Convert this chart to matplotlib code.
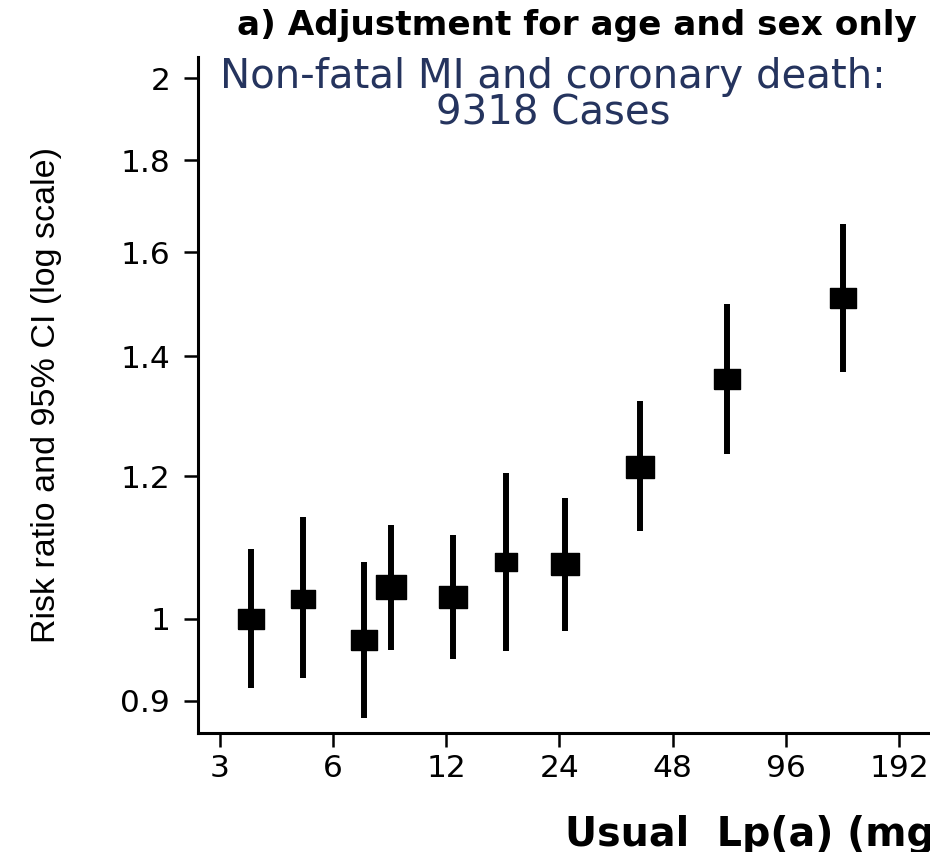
import matplotlib
matplotlib.use('Agg')
import matplotlib.pyplot as plt
from matplotlib.ticker import FixedLocator, NullLocator

# Lp(a) groups: usual Lp(a) (mg/dl), risk ratio and 95% CI
lpa = [3.63, 5.0, 7.25, 8.55, 12.5, 17.3, 24.9, 39.3, 66.8, 135.7]
rr = [1.000, 1.026, 0.973, 1.041, 1.028, 1.075, 1.073, 1.215, 1.360, 1.508]
ci_lo = [0.915, 0.927, 0.881, 0.961, 0.950, 0.959, 0.984, 1.119, 1.235, 1.372]
ci_hi = [1.094, 1.139, 1.075, 1.128, 1.113, 1.206, 1.167, 1.322, 1.497, 1.659]
# box size ~ precision of each estimate
box = [19.2, 17.3, 18.2, 21.6, 20.7, 15.8, 20.2, 20.2, 19.2, 19.2]

xticks = [3, 6, 12, 24, 48, 96, 192]
yticks = [0.9, 1, 1.2, 1.4, 1.6, 1.8, 2]
ytick_labels = ['0.9', '1', '1.2', '1.4', '1.6', '1.8', '2']

fig = plt.figure(figsize=(9.3, 8.52), dpi=100)
ax = fig.add_axes([0.2129, 0.1397, 0.7871, 0.7934])

ax.vlines(lpa, ci_lo, ci_hi, color='black', linewidth=4.3, capstyle='butt')
rect = [(-1, -0.78), (1, -0.78), (1, 0.78), (-1, 0.78), (-1, -0.78)]
for xi, yi, s in zip(lpa, rr, box):
    ax.plot(xi, yi, marker=rect, markersize=s, color='black', linestyle='none')

ax.set_xscale('log')
ax.set_yscale('log')
ax.set_xlim(2.63, 231.7)
ax.set_ylim(0.8637, 2.0547)

ax.xaxis.set_major_locator(FixedLocator(xticks))
ax.xaxis.set_minor_locator(NullLocator())
ax.set_xticklabels([str(t) for t in xticks])
ax.yaxis.set_major_locator(FixedLocator(yticks))
ax.yaxis.set_minor_locator(NullLocator())
ax.set_yticklabels(ytick_labels)

ax.tick_params(axis='both', which='major', length=10, width=1.8, labelsize=22.5,
               colors='black')
ax.tick_params(axis='y', pad=10)
ax.tick_params(axis='x', pad=5)

for side in ['top', 'right']:
    ax.spines[side].set_visible(False)
for side in ['left', 'bottom']:
    ax.spines[side].set_linewidth(2.2)

ax.set_ylabel('Risk ratio and 95% CI (log scale)', fontsize=24.5,
              family=['Liberation Sans', 'DejaVu Sans'])
ax.yaxis.set_label_coords(-0.186, 0.5)

fig.text(553 / 930, 1 - 95 / 852, 'Non-fatal MI and coronary death:\n9318 Cases',
         ha='center', va='center', fontsize=29, color='#25345e',
         linespacing=0.9)

fig.text(917 / 930, 1 - 25 / 852, 'a) Adjustment for age and sex only',
         ha='right', va='center', fontsize=24.7, fontweight='bold')
# the x label runs off the right edge, as in the original
fig.text(565 / 930, 1 - 835 / 852, 'Usual  Lp(a) (mg/dl)',
         ha='left', va='center', fontsize=28.5, fontweight='bold')

fig.savefig('out.png', dpi=100)
